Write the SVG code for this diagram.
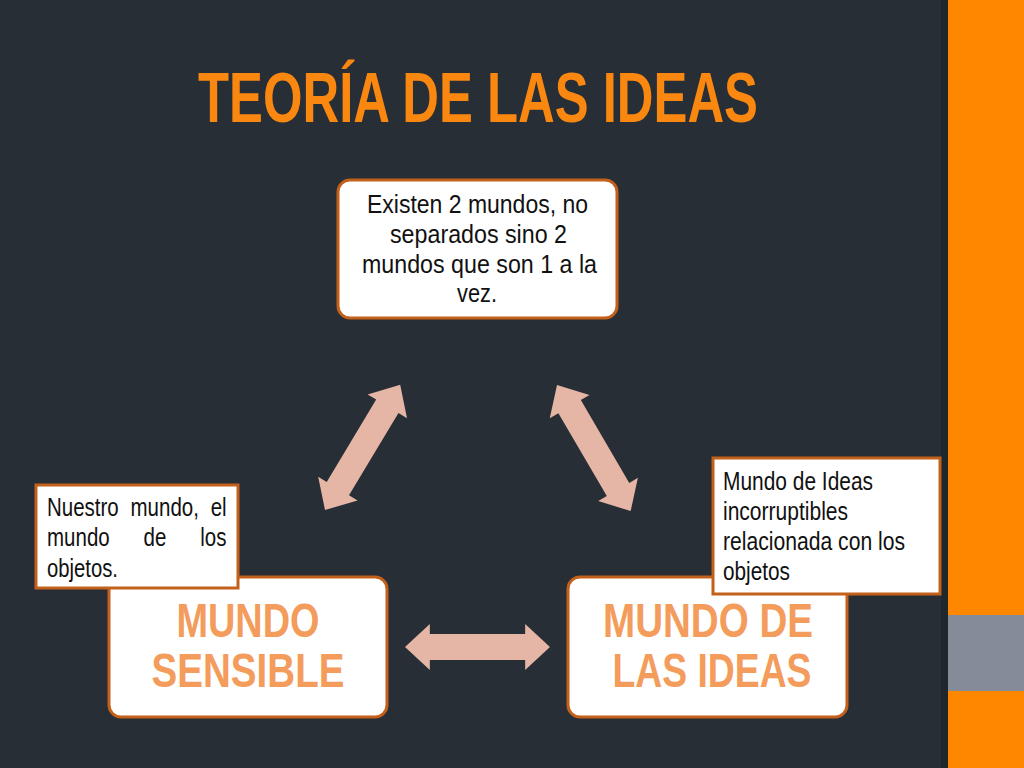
<svg xmlns="http://www.w3.org/2000/svg" width="1024" height="768" viewBox="0 0 1024 768">
<style>
.bg{fill:#272E36}
.box{fill:#FFFFFF;stroke:#C3611B;stroke-width:3}
.t{font-family:"Liberation Sans Narrow","Liberation Sans",Arial,sans-serif;fill:#111111;font-size:25px}
.big{font-family:"Liberation Sans Narrow","Liberation Sans",Arial,sans-serif;font-weight:bold;fill:#F39C5B;font-size:48px;text-anchor:middle}
.title{font-family:"Liberation Sans Narrow","Liberation Sans",Arial,sans-serif;font-weight:bold;fill:#FA870F;font-size:70px;text-anchor:middle}
.arrow{fill:#E5B5A5}
</style>
<defs>
<path id="dbl" d="M0,0 L25,-23 L25,-13 L121,-13 L121,-23 L146,0 L121,23 L121,13 L25,13 L25,23 Z"/>
</defs>
<rect class="bg" x="0" y="0" width="1024" height="768"/>
<rect x="941" y="0" width="8" height="768" fill="#20262D"/>
<rect x="948" y="0" width="76" height="768" fill="#FF8700"/>
<rect x="948" y="615" width="76" height="76" fill="#848C99"/>
<text class="title" x="478" y="122" textLength="560" lengthAdjust="spacingAndGlyphs">TEORÍA DE LAS IDEAS</text>
<g id="connectors">
<use href="#dbl" class="arrow" transform="translate(325,510) rotate(-59)"/>
<use href="#dbl" class="arrow" transform="translate(557,385) rotate(59.7)"/>
<use href="#dbl" class="arrow" transform="translate(405,647) scale(0.993,1)"/>
</g>
<g id="node-top">
<rect class="box" x="338" y="180" width="279" height="138" rx="12"/>
<text class="t" x="367" y="213" textLength="221" lengthAdjust="spacingAndGlyphs">Existen 2 mundos, no</text>
<text class="t" x="390" y="243" textLength="177" lengthAdjust="spacingAndGlyphs">separados sino 2</text>
<text class="t" x="362" y="273" textLength="235" lengthAdjust="spacingAndGlyphs">mundos que son 1 a la</text>
<text class="t" x="457" y="302" textLength="40" lengthAdjust="spacingAndGlyphs">vez.</text>
</g>
<g id="node-sensible">
<rect class="box" x="109" y="577" width="278" height="140" rx="12"/>
<text class="big" x="248" y="637" textLength="143" lengthAdjust="spacingAndGlyphs">MUNDO</text>
<text class="big" x="248" y="687" textLength="193" lengthAdjust="spacingAndGlyphs">SENSIBLE</text>
</g>
<g id="node-ideas">
<rect class="box" x="568" y="577" width="279" height="140" rx="12"/>
<text class="big" x="708" y="637" textLength="210" lengthAdjust="spacingAndGlyphs">MUNDO DE</text>
<text class="big" x="712" y="687" textLength="199" lengthAdjust="spacingAndGlyphs">LAS IDEAS</text>
</g>
<g id="note-left">
<rect class="box" x="36" y="485" width="202" height="103"/>
<text class="t" transform="translate(47,516) scale(0.82,1)" x="0" y="0" word-spacing="7.4">Nuestro mundo, el</text>
<text class="t" transform="translate(47,546) scale(0.82,1)" x="0" y="0" word-spacing="34.4">mundo de los</text>
<text class="t" x="47" y="577" textLength="71" lengthAdjust="spacingAndGlyphs">objetos.</text>
</g>
<g id="note-right">
<rect class="box" x="713" y="458" width="227" height="136"/>
<text class="t" x="723" y="490" textLength="150" lengthAdjust="spacingAndGlyphs">Mundo de Ideas</text>
<text class="t" x="723" y="520" textLength="125" lengthAdjust="spacingAndGlyphs">incorruptibles</text>
<text class="t" x="723" y="550" textLength="182" lengthAdjust="spacingAndGlyphs">relacionada con los</text>
<text class="t" x="723" y="580" textLength="67" lengthAdjust="spacingAndGlyphs">objetos</text>
</g>
</svg>
